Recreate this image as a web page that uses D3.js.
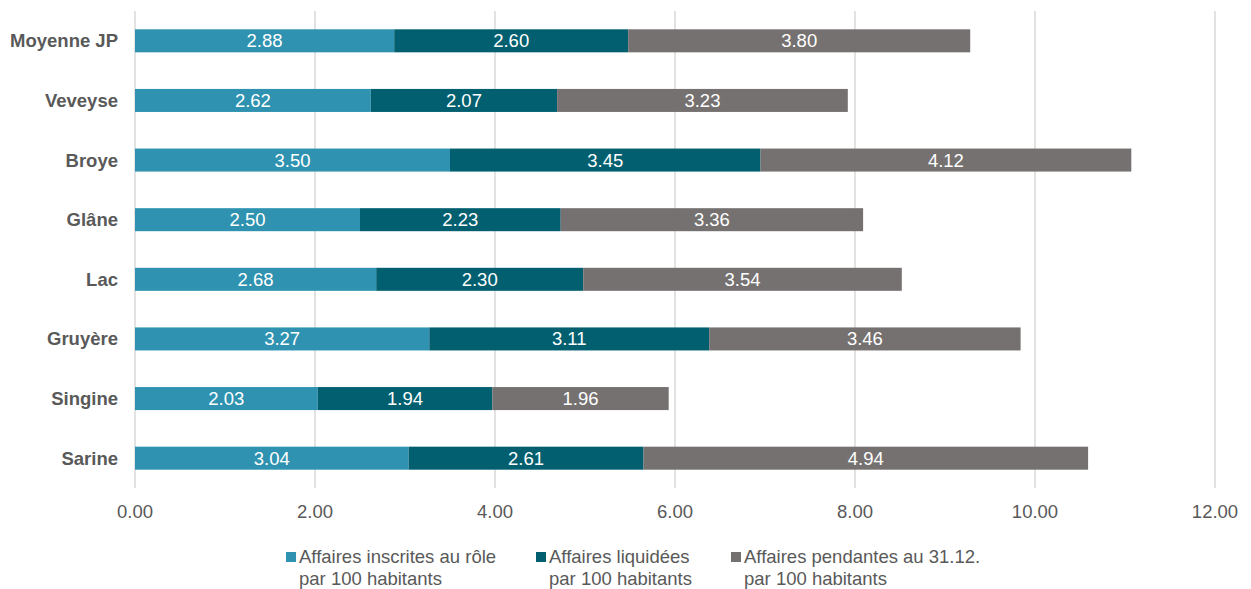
<!DOCTYPE html>
<html><head><meta charset="utf-8">
<script src="https://cdn.jsdelivr.net/npm/d3@7"></script>
<style>body{margin:0;background:#fff;}svg{display:block;font-family:"Liberation Sans",Arial,sans-serif;}</style>
</head><body><svg id="c" width="1251" height="589"></svg>
<script>
const categories = ["Moyenne JP","Veveyse","Broye","Glâne","Lac","Gruyère","Singine","Sarine"];
const inscrites = [2.88,2.62,3.50,2.50,2.68,3.27,2.03,3.04];
const liquidees = [2.60,2.07,3.45,2.23,2.30,3.11,1.94,2.61];
const pendantes = [3.80,3.23,4.12,3.36,3.54,3.46,1.96,4.94];
const seriesNames = [["Affaires inscrites au rôle","par 100 habitants"],["Affaires liquidées","par 100 habitants"],["Affaires pendantes au 31.12.","par 100 habitants"]];
const colors = ["#2E92B0","#015F6F","#767171"];
const ticks = [0,2,4,6,8,10,12];

const FS = 18.5;
const svg = d3.select("#c");
const x = d3.scaleLinear().domain([0,12]).range([135,1215]);
const y = d3.scaleBand().domain(categories).range([11,488]).paddingInner(0.614).paddingOuter(0.307);

svg.append("g").selectAll("line").data(ticks).join("line")
  .attr("x1",d=>x(d)).attr("x2",d=>x(d)).attr("y1",11).attr("y2",488)
  .attr("stroke","#D9D9D9").attr("stroke-width",1.5);

const series = [inscrites,liquidees,pendantes];
const stacked = categories.map((c,i)=>{let s=0;return series.map((arr,k)=>{const r={c,k,v:arr[i],x0:s,x1:s+arr[i]};s+=arr[i];return r;});}).flat();

svg.append("g").selectAll("rect").data(stacked).join("rect")
  .attr("x",d=>x(d.x0)).attr("width",d=>x(d.x1)-x(d.x0))
  .attr("y",d=>y(d.c)).attr("height",y.bandwidth())
  .attr("fill",d=>colors[d.k]);

svg.append("g").selectAll("text").data(stacked).join("text")
  .attr("x",d=>(x(d.x0)+x(d.x1))/2).attr("y",d=>y(d.c)+y.bandwidth()/2+6.5)
  .attr("text-anchor","middle").attr("fill","#fff").attr("font-size",FS)
  .text(d=>d.v.toFixed(2));

svg.append("g").selectAll("text").data(categories).join("text")
  .attr("x",118).attr("y",d=>y(d)+y.bandwidth()/2+6.5)
  .attr("text-anchor","end").attr("fill","#595959").attr("font-size",FS).attr("font-weight","bold")
  .text(d=>d);

svg.append("g").selectAll("text").data(ticks).join("text")
  .attr("x",d=>x(d)).attr("y",518).attr("text-anchor","middle")
  .attr("fill","#595959").attr("font-size",FS).text(d=>d.toFixed(2));

const legX = [286,536,731];
const lg = svg.append("g").selectAll("g").data(seriesNames).join("g")
  .attr("transform",(d,i)=>`translate(${legX[i]},0)`);
lg.append("rect").attr("x",0).attr("y",552).attr("width",10).attr("height",10).attr("fill",(d,i)=>colors[i]);
lg.append("text").attr("x",13).attr("y",563).attr("fill","#595959").attr("font-size",FS).text(d=>d[0]);
lg.append("text").attr("x",13).attr("y",585).attr("fill","#595959").attr("font-size",FS).text(d=>d[1]);
</script></body></html>
